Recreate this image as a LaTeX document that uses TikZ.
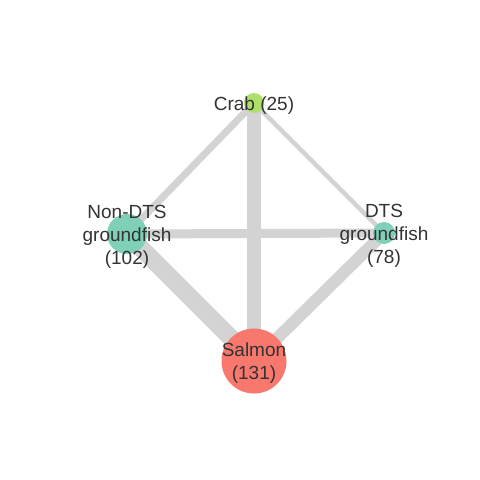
\documentclass[tikz,border=0pt]{standalone}
\usepackage{fontspec}
\setmainfont{Liberation Sans}
\definecolor{edgegray}{HTML}{D3D3D3}
\definecolor{crabgreen}{HTML}{AEDF6B}
\definecolor{fishteal}{HTML}{80D0B9}
\definecolor{salmonred}{HTML}{F8786E}
\definecolor{labeltext}{HTML}{333333}
\begin{document}
\begin{tikzpicture}[x=1pt,y=-1pt,
  vertex/.style={circle,inner sep=0pt,minimum size=#1},
  edge/.style={draw=edgegray,line width=#1},
  lbl/.style={text=labeltext,align=center,font=\fontsize{19}{23}\selectfont,inner sep=0pt,yshift=-2.5pt}]
\useasboundingbox[fill=white] (0,0) rectangle (480,480);
\coordinate (crab) at (254,103);
\coordinate (non) at (127,234);
\coordinate (dts) at (384,233);
\coordinate (sal) at (254,361);
\draw[edge=7pt] (crab) -- (non);
\draw[edge=4.5pt] (crab) -- (dts);
\draw[edge=9pt] (non) -- (dts);
\draw[edge=13.5pt] (crab) -- (sal);
\draw[edge=17.5pt] (non) -- (sal);
\draw[edge=12pt] (dts) -- (sal);
\node[vertex=20pt,fill=crabgreen] (crabv) at (crab) {};
\node[vertex=40pt,fill=fishteal] (nonv) at (non) {};
\node[vertex=22pt,fill=fishteal] (dtsv) at (dts) {};
\node[vertex=65pt,fill=salmonred] (salv) at (sal) {};
\node[lbl] (crabl) at (crab) {Crab (25)};
\node[lbl] (nonl) at (non) {Non-DTS\\groundfish\\(102)};
\node[lbl] (dtsl) at (dts) {DTS\\groundfish\\(78)};
\node[lbl] (sall) at (sal) {Salmon\\(131)};
\end{tikzpicture}
\end{document}
